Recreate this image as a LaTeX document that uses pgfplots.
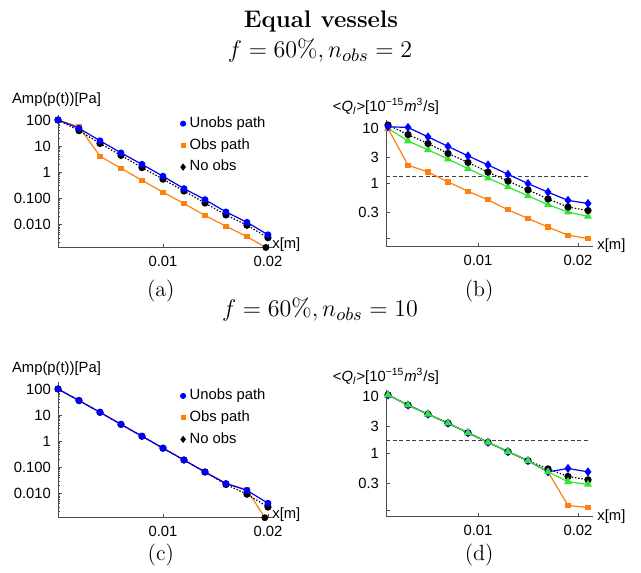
\documentclass[border=0pt]{standalone}
\usepackage{fontspec}
\newfontfamily\hv{Liberation Sans}
\usepackage{pgfplots}
\pgfplotsset{compat=1.18}
\definecolor{mblue}{rgb}{0,0,1}
\definecolor{morange}{rgb}{1,0.5,0.05}
\definecolor{mgreen}{rgb}{0.2,0.9,0.2}
\newcommand{\tf}{\hv\fontsize{7.4}{8.5}\selectfont}
\tikzset{
  ub/.style={mblue, line width=0.6pt, mark=*, mark size=1.4pt},
  ubd/.style={mblue, line width=0.6pt, mark=diamond*, mark size=1.8pt},
  ob/.style={morange, line width=0.6pt, mark=square*, mark size=1pt},
  nob/.style={black, line width=0.6pt, dash pattern=on 0.7pt off 0.9pt, mark=*, mark size=1.5pt, mark options={solid}},
  gr/.style={mgreen, line width=0.6pt, mark=triangle*, mark size=1.7pt},
  dl/.style={black!75, line width=0.5pt, dash pattern=on 2pt off 1.3pt},
}
\pgfplotsset{every axis/.append style={
    scale only axis, axis lines*=left,
    axis line style={black!70, line width=0.5pt},
    tick style={black!70, line width=0.4pt},
    tick align=inside, major tick length=2pt, minor tick length=1.1pt,
    ticklabel style={font=\tf},
    clip=false,
    xtick={0.01,0.02}, xticklabels={0.01,0.02}, scaled x ticks=false,
    xticklabel style={yshift=-0.6pt},
    legend style={draw=none, fill=none, font=\tf, row sep=0pt,
      cells={anchor=west}},
}}
\begin{document}
\begin{tikzpicture}
\path (0pt,0pt) rectangle (320.5pt,285.5pt);
% ---------- (a)
\begin{axis}[anchor=south west, ymode=log, at={(29pt,161.75pt)}, width=107.5pt, height=66.25pt,
  xmin=0, xmax=0.02048, ymin=0.0013, ymax=155,
  ytick={100,10,1,0.1,0.01}, yticklabels={100,10,1,0.100,0.010},
  minor ytick={0.002,0.003,0.004,0.005,0.006,0.007,0.008,0.009,
      0.02,0.03,0.04,0.05,0.06,0.07,0.08,0.09,
      0.2,0.3,0.4,0.5,0.6,0.7,0.8,0.9,2,3,4,5,6,7,8,9,20,30,40,50,60,70,80,90},
  legend style={at={(0.54,1.05)}, anchor=north west}]
\addplot[ob, forget plot] coordinates {(0,100) (0.002,55) (0.004,4.1) (0.006,1.4) (0.008,0.49) (0.01,0.17) (0.012,0.063) (0.014,0.022) (0.016,0.0085) (0.018,0.0034) (0.0198,0.0013)};
\addplot[nob, forget plot] coordinates {(0,100) (0.002,39) (0.004,12.6) (0.006,4.4) (0.008,1.5) (0.01,0.54) (0.012,0.19) (0.014,0.066) (0.016,0.023) (0.018,0.0093) (0.02,0.0031)};
\addplot[only marks, black, mark=*, mark size=1.5pt, forget plot] coordinates {(0.0198,0.0013)};
\addplot[ub, forget plot] coordinates {(0,100) (0.002,48) (0.004,16) (0.006,5.5) (0.008,2.0) (0.01,0.70) (0.012,0.235) (0.014,0.089) (0.016,0.030) (0.018,0.012) (0.02,0.0040)};
\addlegendimage{only marks, mblue, mark=*, mark size=1.3pt}
\addlegendimage{only marks, morange, mark=square*, mark size=0.9pt}
\addlegendimage{only marks, black, mark=diamond*, mark size=1.5pt}
\legend{Unobs path, Obs path, No obs}
\end{axis}
% ---------- (b)
\begin{axis}[anchor=south west, ymode=log, at={(193pt,162.15pt)}, width=103.35pt, height=63.35pt,
  xmin=0.0008, xmax=0.02147, ymin=0.0703, ymax=14.2,
  ytick={0.1,0.3,1,3,10}, yticklabels={,0.3,1,3,10}]
\addplot[dl] coordinates {(0.0008,1.34) (0.021,1.34)};
\addplot[gr] coordinates {(0.001,10) (0.003,5.9) (0.005,4.07) (0.007,2.76) (0.009,1.85) (0.011,1.25) (0.013,0.86) (0.015,0.59) (0.017,0.41) (0.019,0.30) (0.021,0.25)};
\addplot[ob] coordinates {(0.001,10) (0.003,2.14) (0.005,1.61) (0.007,1.06) (0.009,0.72) (0.011,0.50) (0.013,0.33) (0.015,0.23) (0.017,0.16) (0.019,0.114) (0.021,0.099)};
\addplot[nob] coordinates {(0.001,11.5) (0.003,7.7) (0.005,5.3) (0.007,3.5) (0.009,2.4) (0.011,1.6) (0.013,1.1) (0.015,0.76) (0.017,0.52) (0.019,0.37) (0.021,0.32)};
\addplot[ubd] coordinates {(0.001,10.7) (0.003,10.4) (0.005,7.0) (0.007,4.7) (0.009,3.16) (0.011,2.16) (0.013,1.46) (0.015,0.99) (0.017,0.69) (0.019,0.49) (0.021,0.43)};
\end{axis}
% ---------- (c)
\begin{axis}[anchor=south west, ymode=log, at={(29pt,26.65pt)}, width=107.5pt, height=67.85pt,
  xmin=0, xmax=0.02048, ymin=0.00117, ymax=185,
  ytick={100,10,1,0.1,0.01}, yticklabels={100,10,1,0.100,0.010},
  minor ytick={0.002,0.003,0.004,0.005,0.006,0.007,0.008,0.009,
      0.02,0.03,0.04,0.05,0.06,0.07,0.08,0.09,
      0.2,0.3,0.4,0.5,0.6,0.7,0.8,0.9,2,3,4,5,6,7,8,9,20,30,40,50,60,70,80,90},
  legend style={at={(0.54,1.01)}, anchor=north west}]
\addplot[ob, forget plot] coordinates {(0,100) (0.002,36) (0.004,12.8) (0.006,4.4) (0.008,1.55) (0.01,0.54) (0.012,0.19) (0.014,0.066) (0.016,0.024) (0.018,0.014) (0.0197,0.00117)};
\addplot[nob, forget plot] coordinates {(0,100) (0.002,36) (0.004,12.8) (0.006,4.4) (0.008,1.55) (0.01,0.54) (0.012,0.19) (0.014,0.066) (0.016,0.022) (0.018,0.0093) (0.02,0.0030)};
\addplot[only marks, black, mark=*, mark size=1.5pt, forget plot] coordinates {(0.0197,0.00117)};
\addplot[ub, forget plot] coordinates {(0,100) (0.002,36) (0.004,12.8) (0.006,4.4) (0.008,1.55) (0.01,0.54) (0.012,0.19) (0.014,0.066) (0.016,0.024) (0.018,0.013) (0.02,0.0042)};
\addlegendimage{only marks, mblue, mark=*, mark size=1.3pt}
\addlegendimage{only marks, morange, mark=square*, mark size=0.9pt}
\addlegendimage{only marks, black, mark=diamond*, mark size=1.5pt}
\legend{Unobs path, Obs path, No obs}
\end{axis}
% ---------- (d)
\begin{axis}[anchor=south west, ymode=log, at={(193pt,27.15pt)}, width=103.35pt, height=63.35pt,
  xmin=0.0008, xmax=0.02147, ymin=0.0759, ymax=13.1,
  ytick={0.1,0.3,1,3,10}, yticklabels={,0.3,1,3,10}]
\addplot[dl] coordinates {(0.0008,1.67) (0.021,1.67)};
\addplot[ob] coordinates {(0.001,10.7) (0.003,7.1) (0.005,4.9) (0.007,3.4) (0.009,2.3) (0.011,1.56) (0.013,1.07) (0.015,0.74) (0.017,0.47) (0.019,0.12) (0.021,0.11)};
\addplot[nob] coordinates {(0.001,10.7) (0.003,7.1) (0.005,4.9) (0.007,3.4) (0.009,2.3) (0.011,1.56) (0.013,1.07) (0.015,0.74) (0.017,0.53) (0.019,0.39) (0.021,0.34)};
\addplot[ubd] coordinates {(0.001,10.7) (0.003,7.1) (0.005,4.9) (0.007,3.4) (0.009,2.3) (0.011,1.56) (0.013,1.07) (0.015,0.74) (0.017,0.47) (0.019,0.54) (0.021,0.47)};
\addplot[gr] coordinates {(0.001,10.7) (0.003,7.1) (0.005,4.9) (0.007,3.4) (0.009,2.3) (0.011,1.56) (0.013,1.07) (0.015,0.74) (0.017,0.47) (0.019,0.315) (0.021,0.283)};
\end{axis}
% ---------- texts
\node[font=\tf] at (28.25pt,235.5pt) {Amp(p(t))[Pa]};
\node[font=\tf] at (28.25pt,101.35pt) {Amp(p(t))[Pa]};
\node[font=\tf] at (193pt,232.15pt) {{<}\textit{Q}\textsubscript{\textit{l}}{>}[10\textsuperscript{−15}\textit{m}\textsuperscript{3}/s]};
\node[font=\tf] at (193pt,97.15pt) {{<}\textit{Q}\textsubscript{\textit{l}}{>}[10\textsuperscript{−15}\textit{m}\textsuperscript{3}/s]};
\node[font=\tf, anchor=west, inner sep=0pt] at (136pt,163pt) {x[m]};
\node[font=\tf, anchor=west, inner sep=0pt] at (298.5pt,162.65pt) {x[m]};
\node[font=\tf, anchor=west, inner sep=0pt] at (136pt,28pt) {x[m]};
\node[font=\tf, anchor=west, inner sep=0pt] at (298.5pt,27.15pt) {x[m]};
\node[anchor=base, font=\fontsize{12}{14}\selectfont] at (160.5pt,271.85pt) {\textbf{Equal vessels}};
\node[anchor=base, font=\fontsize{12.5}{15}\selectfont] at (160pt,257pt) {$f=60\%, n_{obs}=2$};
\node[anchor=base, font=\fontsize{12.5}{15}\selectfont] at (160pt,127.15pt) {$f=60\%, n_{obs}=10$};
\node[anchor=base, font=\fontsize{11}{13}\selectfont] at (80.4pt,137.15pt) {(a)};
\node[anchor=base, font=\fontsize{11}{13}\selectfont] at (239.6pt,137.15pt) {(b)};
\node[anchor=base, font=\fontsize{11}{13}\selectfont] at (80.4pt,5.5pt) {(c)};
\node[anchor=base, font=\fontsize{11}{13}\selectfont] at (239.6pt,5.5pt) {(d)};
\end{tikzpicture}
\end{document}
